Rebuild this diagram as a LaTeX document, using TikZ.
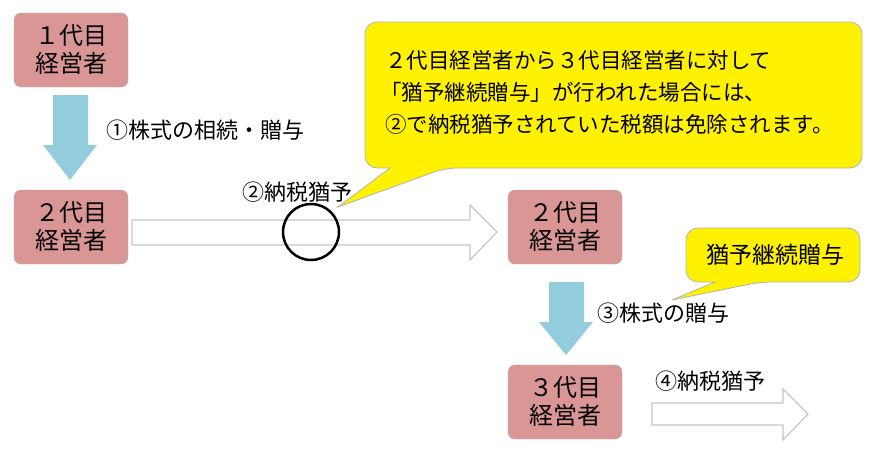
\documentclass[tikz,border=0pt]{standalone}
\usepackage{fontspec}
\setmainfont{Noto Sans CJK JP}
\begin{document}
\begin{tikzpicture}[x=1pt,y=-1pt,
 box/.style={draw=gray!60,fill=boxpink,rounded corners=7pt,minimum width=114pt,minimum height=74pt,align=center,font=\fontsize{24}{28}\selectfont,inner sep=0pt},
 lbl/.style={font=\fontsize{22}{24}\selectfont,anchor=west,inner sep=0pt},
 hollow/.style={draw=gray!45,line width=1.2pt,fill=white},
 blue/.style={fill=arrowblue,draw=none},
 call/.style={fill=yellow,draw=gray!60,line width=0.8pt,rounded corners=12pt}]
\definecolor{boxpink}{HTML}{D99694}
\definecolor{arrowblue}{HTML}{93CDDD}
\useasboundingbox (0,0) rectangle (884,456);
% hollow arrows
\draw[hollow] (132,220) -- (470,220) -- (470,205) -- (497,232) -- (470,260) -- (470,245) -- (132,245) -- cycle;
\draw[hollow] (652,403) -- (783,403) -- (783,389) -- (808,414) -- (783,440) -- (783,425) -- (652,425) -- cycle;
% blue arrows
\fill[blue] (53,95) -- (88,95) -- (88,145) -- (97,145) -- (70,180) -- (43,145) -- (53,145) -- cycle;
\fill[blue] (549,282) -- (584,282) -- (584,322) -- (593,322) -- (566,355) -- (539,322) -- (549,322) -- cycle;
% boxes
\node[box] (g1) at (71,50) {１代目\\経営者};
\node[box] (g2) at (71,227) {２代目\\経営者};
\node[box] (g2b) at (565,227) {２代目\\経営者};
\node[box] (g3) at (565,402) {３代目\\経営者};
% labels
\node[lbl] (l1) at (106,130) {①株式の相続・贈与};
\node[lbl] (l2) at (242,192) {②納税猶予};
\node[lbl] (l3) at (597,313) {③株式の贈与};
\node[lbl] (l4) at (655,381) {④納税猶予};
% circle
\draw[line width=2.5pt] (311,232) circle (28);
% callouts
\draw[call] (365,22) -- (862,22) -- (862,168) -- (445,168) [sharp corners]-- (338,207) -- (390,168) [rounded corners=12pt]-- (365,168) -- cycle;
\node[font=\fontsize{21.5}{32}\selectfont,align=left,anchor=north west,inner sep=0pt] (c1) at (380,50) {\ ２代目経営者から３代目経営者に対して\\「猶予継続贈与」が行われた場合には、\\\ ②で納税猶予されていた税額は免除されます。};
\draw[call] (686,228) -- (860,228) -- (860,282) -- (760,282) [sharp corners]-- (672,300) -- (715,282) [rounded corners=12pt]-- (686,282) -- cycle;
\node[font=\fontsize{23}{26}\selectfont,inner sep=0pt] (c2) at (775,255) {猶予継続贈与};
\end{tikzpicture}
\end{document}
